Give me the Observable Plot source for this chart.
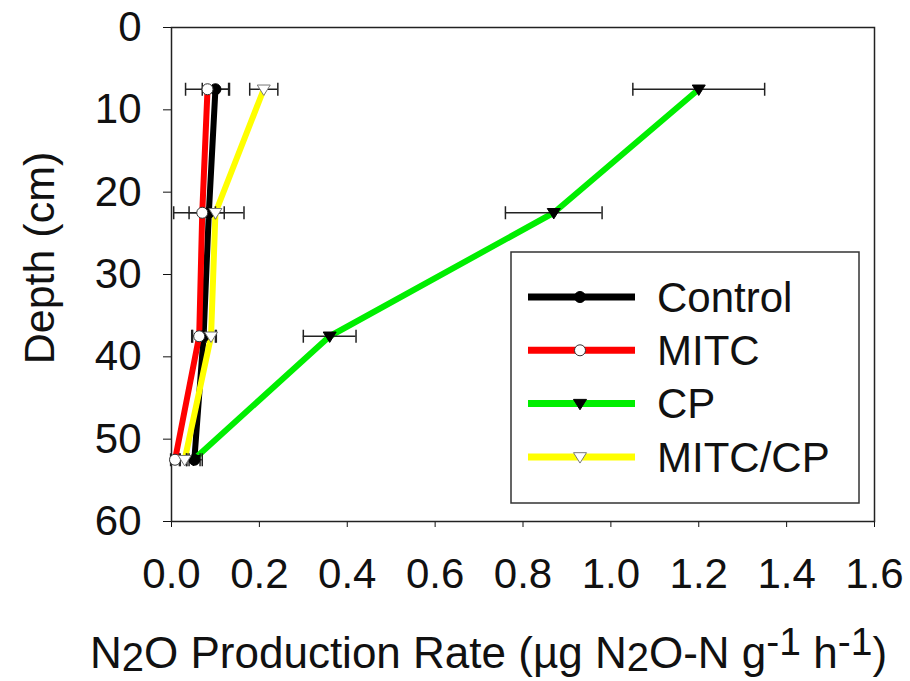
<!DOCTYPE html>
<html><head><meta charset="utf-8">
<script src="https://cdn.jsdelivr.net/npm/d3@7"></script>
<script src="https://cdn.jsdelivr.net/npm/@observablehq/plot@0.6"></script>
<style>
body{margin:0;background:#fff}
#chart{position:relative;width:910px;height:681px}
#xtitle{position:absolute;left:90px;top:631px;height:44px;white-space:nowrap;font-family:'Liberation Sans',Arial,Helvetica,sans-serif;font-size:44px;line-height:44px;color:#111}
#xtitle .sub{display:inline-block;position:relative;top:3px;font-size:40px;line-height:30px}
#xtitle .sup{display:inline-block;position:relative;top:-13px;font-size:39px;line-height:30px}
</style>
</head><body><div id="chart"><div id="xtitle">N<span class="sub">2</span>O Production Rate (µg N<span class="sub">2</span>O-N g<span class="sup">-1</span> h<span class="sup">-1</span>)</div></div>
<script>
// ---- data ----
const depths = [7.5, 22.5, 37.5, 52.5];
const seriesNames = ["Control", "MITC", "CP", "MITC/CP"];
const controlRate = [0.100, 0.085, 0.073, 0.052];
const controlErr  = [0.030, 0.080, 0.027, 0.018];
const mitcRate    = [0.082, 0.070, 0.063, 0.008];
const mitcErr     = [0.050, 0.030, 0.015, 0.010];
const cpRate      = [1.200, 0.870, 0.360, 0.050];
const cpErr       = [0.150, 0.110, 0.060, 0.015];
const mitccpRate  = [0.210, 0.100, 0.090, 0.030];
const mitccpErr   = [0.032, 0.020, 0.012, 0.010];
const xTicks = [0, 0.2, 0.4, 0.6, 0.8, 1.0, 1.2, 1.4, 1.6];
const yTicks = [0, 10, 20, 30, 40, 50, 60];
const seriesColors = ["#000000", "#ff0000", "#00ee00", "#ffff00"];

const rates = [controlRate, mitcRate, cpRate, mitccpRate];
const errs = [controlErr, mitcErr, cpErr, mitccpErr];
const rows = [];
seriesNames.forEach((s, i) => depths.forEach((d, j) => rows.push({
  series: s, depth: d, rate: rates[i][j], lo: rates[i][j] - errs[i][j], hi: rates[i][j] + errs[i][j]
})));
const caps = rows.flatMap(r => [{depth: r.depth, x: r.lo}, {depth: r.depth, x: r.hi}]);

// symbols
const triDown = {draw(ctx, size) {
  const r = Math.sqrt(size / Math.PI);
  ctx.moveTo(-r, -0.65 * r); ctx.lineTo(r, -0.65 * r); ctx.lineTo(0, 0.95 * r); ctx.closePath();
}};
const vbar = {draw(ctx, size) {
  const r = Math.sqrt(size / Math.PI);
  ctx.moveTo(0, -r); ctx.lineTo(0, r);
}};
const markerStyle = {
  "Control": {symbol: "circle", r: 5.5, fill: "#000", stroke: "#000"},
  "MITC": {symbol: "circle", r: 5.5, fill: "#fff", stroke: "#333"},
  "CP": {symbol: triDown, r: 6.5, fill: "#000", stroke: "#000"},
  "MITC/CP": {symbol: triDown, r: 6.5, fill: "#fff", stroke: "#777"}
};

const font = "'Liberation Sans', Arial, Helvetica, sans-serif";
const W = 910, H = 681, mL = 171, mR = 36, mT = 27, mB = 160;

const marks = [
  Plot.frame({stroke: "#222", strokeWidth: 1.5}),
  Plot.line(rows, {x: "rate", y: "depth", z: "series", stroke: "series", strokeWidth: 6}),
  Plot.ruleY(rows, {y: "depth", x1: "lo", x2: "hi", stroke: "#222", strokeWidth: 1.5}),
  Plot.dot(caps, {x: "x", y: "depth", symbol: vbar, r: 6.5, stroke: "#222", strokeWidth: 1.5})
];
seriesNames.forEach(s => {
  const st = markerStyle[s];
  marks.push(Plot.dot(rows.filter(r => r.series === s), {x: "rate", y: "depth", symbol: st.symbol, r: st.r, fill: st.fill, stroke: st.stroke, strokeWidth: 1}));
});

const chart = Plot.plot({
  width: W, height: H,
  marginLeft: mL, marginRight: mR, marginTop: mT, marginBottom: mB,
  style: {fontFamily: font, fontSize: "42px", color: "#111", background: "transparent"},
  x: {domain: [0, 1.6], ticks: xTicks, tickFormat: d3.format(".1f"), tickSize: 6, tickPadding: 31, label: null},
  y: {domain: [0, 60], reverse: true, ticks: yTicks, tickSize: 8, tickPadding: 22, label: null},
  color: {domain: seriesNames, range: seriesColors},
  marks
});
document.getElementById("chart").insertBefore(chart, document.getElementById("xtitle"));

// ---- y title and legend ----
const svg = d3.select(chart);
svg.append("text")
  .attr("transform", "translate(54,258) rotate(-90)")
  .attr("text-anchor", "middle")
  .style("font-family", font).style("font-size", "43px").attr("fill", "#111")
  .text("Depth (cm)");

const lg = svg.append("g").attr("transform", "translate(511,252)");
lg.append("rect").attr("width", 348).attr("height", 251).attr("fill", "#fff").attr("stroke", "#333").attr("stroke-width", 1.5);
seriesNames.forEach((s, i) => {
  const cy = 45 + i * 53.3;
  const g = lg.append("g").attr("transform", `translate(0,${cy})`);
  g.append("line").attr("x1", 17).attr("x2", 124).attr("stroke", seriesColors[i]).attr("stroke-width", 7);
  const st = markerStyle[s];
  const sym = st.symbol === "circle" ? d3.symbolCircle : triDown;
  g.append("path").attr("transform", "translate(69,0)")
    .attr("d", d3.symbol(sym, Math.PI * st.r * st.r)())
    .attr("fill", st.fill).attr("stroke", st.stroke).attr("stroke-width", 1);
  g.append("text").attr("x", 146).attr("dy", "0.35em").attr("text-anchor", "start")
    .style("font-family", font).style("font-size", "42px").attr("fill", "#111").text(s);
});
</script>
</body></html>
